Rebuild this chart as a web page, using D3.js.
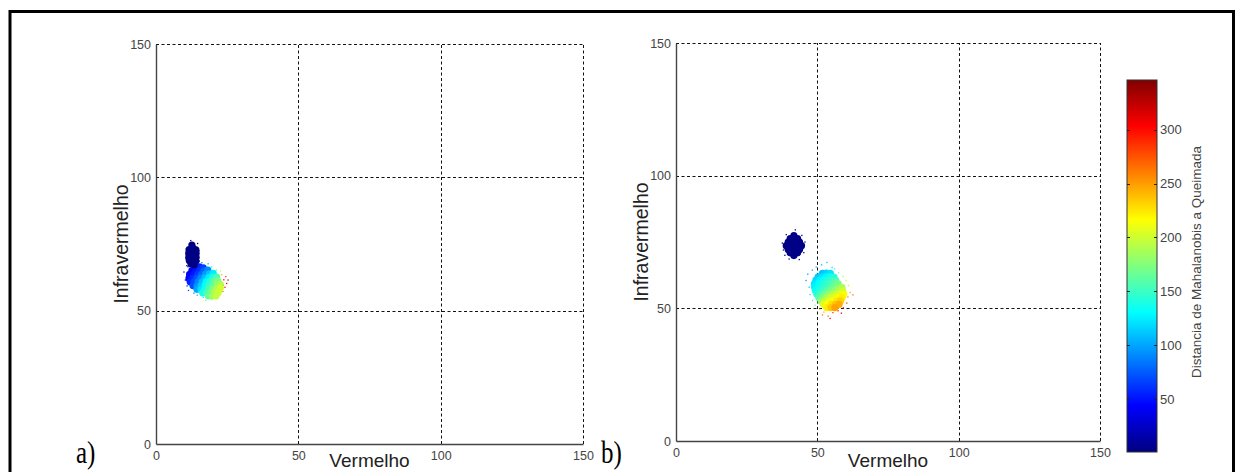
<!DOCTYPE html>
<html>
<head>
<meta charset="utf-8">
<script src="https://cdn.jsdelivr.net/npm/d3@7"></script>
<style>
  body { margin: 0; background: #fff; }
  svg { display: block; }
  text { font-family: "Liberation Sans", Arial, sans-serif; }
</style>
</head>
<body>
<div id="vis"></div>
<script>

// axis / labels
const xTicks = [0, 50, 100, 150];
const yTicks = [0, 50, 100, 150];
const gridTicks = [50, 100, 150];
const cbarTicks = [50, 100, 150, 200, 250, 300];
const cbarDomain = [1, 346];
const panelNames = ["a)", "b)"];
const xLabel = "Vermelho";
const yLabel = "Infravermelho";
const cbarLabel = "Distancia de Mahalanobis a Queimada";

// a) burnt cluster (distance ~0) : [vermelho, infravermelho]
const aBurnt = [[12.8,68.2],[12.8,69.6],[12.8,71],[12.8,72.4],[12.8,73.7],[12.1,69],[13.5,69],
  [12.1,70.3],[13.5,70.3],[12.1,71.7],[13.5,71.7],[12.2,73],[13.4,73],[12.6,74.6],[13.4,67.2],[12.3,67.6],
  [11.5,70],[11.5,71.5],[14.1,70],[14.1,71.5],[11.6,72.8],[14,72.8],[11.7,68.8],[14,68.6]];
const aBurntSparse = [[12.2,76.3],[10.6,69.5],[15.1,72.5],[11.2,66.5],[14.6,75.2],[11,73.8],[15.2,68.6]];

// a) other pixels : [vermelho, infravermelho, distancia]
const aOther = [
  [13.8,66.3,45],[15.2,66.4,55],[16.6,66.1,65],
  [12.6,65,40],[14,65,50],[15.4,65,60],[16.8,65,75],[18.2,65.2,90],
  [11.8,63.6,40],[13.2,63.6,50],[14.6,63.6,62],[16,63.6,78],[17.4,63.7,95],[18.8,63.8,110],[20.1,64,125],
  [11.6,62.2,45],[13,62.2,58],[14.4,62.2,72],[15.8,62.2,90],[17.2,62.3,108],[18.6,62.4,125],[20,62.5,140],[21.3,62.6,155],
  [12,60.8,55],[13.4,60.8,70],[14.8,60.8,88],[16.2,60.8,108],[17.6,60.9,128],[19,61,145],[20.4,61,160],[21.7,61.2,172],
  [13,59.4,70],[14.4,59.4,90],[15.8,59.4,112],[17.2,59.4,130],[18.6,59.5,146],[20,59.6,162],[21.4,59.7,178],[22.6,59.9,190],
  [14.4,58,100],[15.8,58,120],[17.2,58,138],[18.6,58.1,155],[20,58.2,172],[21.4,58.3,188],[22.6,58.5,200],
  [16.4,56.7,136],[17.8,56.7,155],[19.2,56.8,172],[20.6,56.9,188],[21.9,57,200],
  [18.4,55.5,165],[19.8,55.5,182],[21.1,55.6,196]
];
const aOtherSparse = [
  [9.8,64.5,35],[10.3,61.5,45],[10.9,59.3,55],[11.4,57.6,70],[13.3,56.6,85],[14.5,55.8,110],[16.6,55,140],
  [17.5,53.9,165],[19.5,54.3,190],[21.2,54.6,205],[22.4,55.8,230],[23.5,57.2,260],[24.2,58.8,295],
  [24.8,60.2,310],[23.8,61.6,300],[24.5,62.8,285],[23.1,63.5,240],[22.6,64.9,200],[21.2,65.3,165],
  [19.5,66.4,130],[18.3,67.6,100],[16.1,68,80],[10.8,66.9,30],[23.6,59.5,270],[25.3,61.5,320]
];

// b) burnt cluster
const bBurnt = [[41.7,73.6],[40.3,73.6],[43.1,73.6],[39,73.6],[44.4,73.6],
  [41,75.1],[42.4,75.1],[39.7,75],[43.7,75],[41,72.1],[42.4,72.1],[39.7,72.2],[43.7,72.2],
  [41.7,76.5],[40.4,76.3],[43,76.3],[41.7,70.7],[40.4,70.9],[43,70.9],[41.7,77.4],[41.7,69.9]];
const bBurntSparse = [[38,72],[45.6,75],[42.2,79.6],[40,68.6],[45.2,71],[37.6,74.6],[43.6,68.4],
  [39,77.8],[44.5,77.5],[38.5,70]];

// b) other pixels
const bOther = [
  [51.8,63.2,110],[53.2,63.3,115],[54.6,63.2,122],
  [50.3,61.9,112],[51.7,61.9,120],[53.1,61.9,128],[54.5,61.9,135],[55.9,61.8,142],
  [49.5,60.6,118],[50.9,60.6,126],[52.3,60.6,134],[53.7,60.6,140],[55.1,60.6,148],[56.5,60.5,156],
  [49,59.3,122],[50.4,59.3,130],[51.8,59.3,138],[53.2,59.3,145],[54.6,59.3,152],[56,59.3,160],[57.4,59.2,170],
  [49,58,126],[50.4,58,134],[51.8,58,142],[53.2,58,150],[54.6,58,158],[56,58,167],[57.4,58,177],[58.7,57.9,188],
  [49.3,56.7,132],[50.7,56.7,140],[52.1,56.7,150],[53.5,56.7,160],[54.9,56.7,170],[56.3,56.7,180],[57.7,56.7,190],[59,56.6,200],
  [49.8,55.4,142],[51.2,55.4,152],[52.6,55.4,165],[54,55.4,178],[55.4,55.4,188],[56.8,55.4,198],[58.2,55.4,207],[59.4,55.3,215],
  [50.5,54.1,158],[51.9,54.1,172],[53.3,54.1,186],[54.7,54.1,197],[56.1,54.1,206],[57.5,54.1,214],[58.8,54.1,222],
  [51.3,52.8,180],[52.7,52.8,195],[54.1,52.8,207],[55.5,52.8,215],[56.9,52.8,224],[58.2,52.8,232],
  [52.2,51.5,205],[53.6,51.5,216],[55,51.5,226],[56.4,51.5,236],[57.7,51.5,244],
  [53.3,50.3,222],[54.8,50.3,235],[56.2,50.3,248]
];
const bOtherSparse = [
  [46,60.5,95],[46.6,62.9,95],[48.2,64.4,100],[49.6,65.6,105],[51.5,66.4,108],[53.4,67.3,110],[55.2,65.4,120],
  [47.1,58,110],[47.4,55.2,125],[48.3,53,145],[49.2,51.2,170],[50.8,49.6,200],[52.3,48.6,240],
  [53.8,47.1,270],[55.5,48.4,285],[57.3,49.1,295],[59.2,50.2,300],[60.4,52,280],[60.8,54.3,260],
  [61.6,56,245],[61,58.6,225],[60.2,60.5,205],[59.1,62,185],[57.5,63.4,165],[56.1,64.9,145],
  [62.6,55.1,265],[54.5,46.2,305],[51.8,47.5,260],[58.5,48.2,310]
];

const burntDist = 3;

// jet colormap
const jetStops = [0, 0.125, 0.375, 0.625, 0.875, 1];
const jetColors = ["#000080", "#0000ff", "#00ffff", "#ffff00", "#ff0000", "#800000"];
const color = d3.scaleLinear()
    .domain(jetStops.map(t => cbarDomain[0] + t * (cbarDomain[1] - cbarDomain[0])))
    .range(jetColors)
    .clamp(true);

const width = 1238, height = 472;
const dotR = 3.6;

const svg = d3.select("#vis")
    .append("svg")
    .attr("width", width)
    .attr("height", height);

// frame round the figure
svg.append("path")
    .attr("d", "M10,472V11.5H1233.5V472")
    .attr("fill", "none")
    .attr("stroke", "#000")
    .attr("stroke-width", 3);

const panels = [
  { name: panelNames[0], nameX: 76, left: 156, right: 583, top: 44, bottom: 444,
    burnt: aBurnt, burntSparse: aBurntSparse, other: aOther, otherSparse: aOtherSparse },
  { name: panelNames[1], nameX: 601, left: 676, right: 1100, top: 43, bottom: 441,
    burnt: bBurnt, burntSparse: bBurntSparse, other: bOther, otherSparse: bOtherSparse }
];

panels.forEach(drawPanel);
drawColorbar();

function drawPanel(p) {
  const x = d3.scaleLinear().domain([0, 150]).range([p.left, p.right]);
  const y = d3.scaleLinear().domain([0, 150]).range([p.bottom, p.top]);
  const g = svg.append("g");

  // dashed grid
  g.selectAll(".vgrid")
      .data(gridTicks)
      .join("line")
      .attr("x1", d => Math.round(x(d)) + 0.5)
      .attr("x2", d => Math.round(x(d)) + 0.5)
      .attr("y1", y(0))
      .attr("y2", y(150))
      .attr("stroke", "#111")
      .attr("stroke-dasharray", "3,2.5");

  g.selectAll(".hgrid")
      .data(gridTicks)
      .join("line")
      .attr("x1", x(0))
      .attr("x2", x(150))
      .attr("y1", d => Math.round(y(d)) + 0.5)
      .attr("y2", d => Math.round(y(d)) + 0.5)
      .attr("stroke", "#111")
      .attr("stroke-dasharray", "3,2.5");

  // scatter
  const pts = g.append("g");
  pts.selectAll(".os")
      .data(p.otherSparse)
      .join("rect")
      .attr("x", d => x(d[0]) - 0.6)
      .attr("y", d => y(d[1]) - 0.6)
      .attr("width", 1.3)
      .attr("height", 1.3)
      .attr("fill", d => color(d[2]));
  pts.selectAll(".oc")
      .data(p.other)
      .join("circle")
      .attr("cx", d => x(d[0]))
      .attr("cy", d => y(d[1]))
      .attr("r", dotR)
      .attr("fill", d => color(d[2]));
  pts.selectAll(".bs")
      .data(p.burntSparse)
      .join("rect")
      .attr("x", d => x(d[0]) - 0.6)
      .attr("y", d => y(d[1]) - 0.6)
      .attr("width", 1.3)
      .attr("height", 1.3)
      .attr("fill", color(burntDist));
  pts.selectAll(".bc")
      .data(p.burnt)
      .join("circle")
      .attr("cx", d => x(d[0]))
      .attr("cy", d => y(d[1]))
      .attr("r", dotR)
      .attr("fill", color(burntDist));

  // axes
  const xAxis = g.append("g")
      .attr("transform", `translate(0,${p.bottom})`)
      .call(d3.axisBottom(x).tickValues(xTicks).tickSize(0).tickPadding(7));
  const yAxis = g.append("g")
      .attr("transform", `translate(${p.left},0)`)
      .call(d3.axisLeft(y).tickValues(yTicks).tickSize(0).tickPadding(5));

  [xAxis, yAxis].forEach(a => {
    a.select(".domain").attr("stroke", "#444").attr("stroke-width", 1.4);
    a.selectAll("text")
        .attr("fill", "#444")
        .style("font-size", "12.5px");
  });

  // axis titles
  g.append("text")
      .attr("x", (p.left + p.right) / 2)
      .attr("y", 467)
      .attr("text-anchor", "middle")
      .attr("fill", "#222")
      .style("font-size", "19px")
      .text(xLabel);

  g.append("text")
      .attr("transform", `translate(${p.left - 28},${(p.top + p.bottom) / 2}) rotate(-90)`)
      .attr("text-anchor", "middle")
      .attr("fill", "#222")
      .style("font-size", "19.5px")
      .text(yLabel);

  // panel letter
  g.append("text")
      .attr("transform", `translate(${p.nameX},463) scale(1,1.3)`)
      .style("font-family", "'Liberation Serif', 'Times New Roman', serif")
      .style("font-size", "25px")
      .attr("fill", "#000")
      .text(p.name);
}

function drawColorbar() {
  const cb = { left: 1127, right: 1157, top: 80, bottom: 452 };
  const c = d3.scaleLinear().domain(cbarDomain).range([cb.bottom, cb.top]);

  const grad = svg.append("defs")
      .append("linearGradient")
      .attr("id", "jet")
      .attr("x1", 0).attr("x2", 0)
      .attr("y1", 1).attr("y2", 0);
  grad.selectAll("stop")
      .data(color.domain())
      .join("stop")
      .attr("offset", d => (d - cbarDomain[0]) / (cbarDomain[1] - cbarDomain[0]))
      .attr("stop-color", d => color(d));

  svg.append("rect")
      .attr("x", cb.left)
      .attr("y", cb.top)
      .attr("width", cb.right - cb.left)
      .attr("height", cb.bottom - cb.top)
      .attr("fill", "url(#jet)")
      .attr("stroke", "#333")
      .attr("stroke-width", 1);

  // inner tick marks both sides
  const ticks = svg.append("g");
  ticks.selectAll(".tl")
      .data(cbarTicks)
      .join("line")
      .attr("x1", cb.left).attr("x2", cb.left + 3)
      .attr("y1", d => Math.round(c(d)) + 0.5)
      .attr("y2", d => Math.round(c(d)) + 0.5)
      .attr("stroke", "#222");
  ticks.selectAll(".tr")
      .data(cbarTicks)
      .join("line")
      .attr("x1", cb.right - 3).attr("x2", cb.right)
      .attr("y1", d => Math.round(c(d)) + 0.5)
      .attr("y2", d => Math.round(c(d)) + 0.5)
      .attr("stroke", "#222");

  const axis = svg.append("g")
      .attr("transform", `translate(${cb.right},0)`)
      .call(d3.axisRight(c).tickValues(cbarTicks).tickSize(0).tickPadding(3));
  axis.select(".domain").remove();
  axis.selectAll("text")
      .attr("fill", "#444")
      .style("font-size", "13px");

  svg.append("text")
      .attr("transform", `translate(1201,${(cb.top + cb.bottom) / 2 - 4}) rotate(-90)`)
      .attr("text-anchor", "middle")
      .attr("fill", "#444")
      .style("font-size", "13.5px")
      .text(cbarLabel);
}

</script>
</body>
</html>
